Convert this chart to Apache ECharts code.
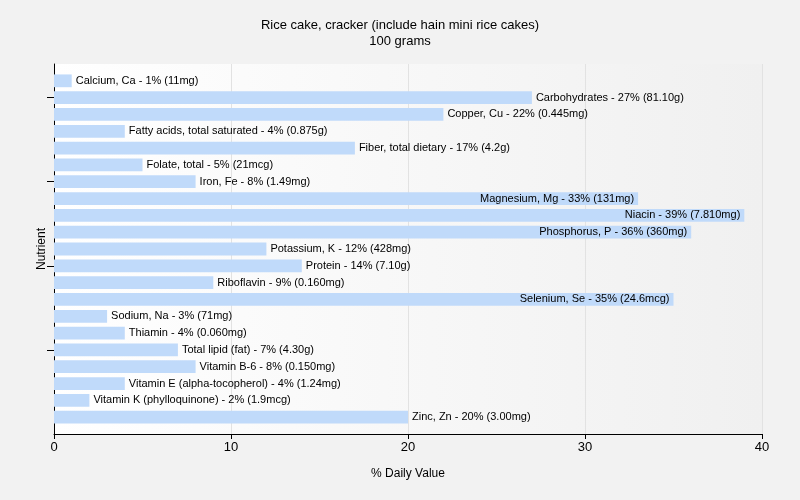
<!DOCTYPE html>
<html>
<head>
<meta charset="utf-8">
<script src="https://cdn.jsdelivr.net/npm/echarts@6/dist/echarts.min.js"></script>
<style>
  html, body { margin: 0; padding: 0; background: #f2f2f2; }
  #chart { width: 800px; height: 500px; }
</style>
</head>
<body>
<div id="chart"></div>
<script>
const nutrients = [
  "Calcium, Ca", "Carbohydrates", "Copper, Cu", "Fatty acids, total saturated",
  "Fiber, total dietary", "Folate, total", "Iron, Fe", "Magnesium, Mg", "Niacin",
  "Phosphorus, P", "Potassium, K", "Protein", "Riboflavin", "Selenium, Se",
  "Sodium, Na", "Thiamin", "Total lipid (fat)", "Vitamin B-6",
  "Vitamin E (alpha-tocopherol)", "Vitamin K (phylloquinone)", "Zinc, Zn"
];
const dailyValues = [1, 27, 22, 4, 17, 5, 8, 33, 39, 36, 12, 14, 9, 35, 3, 4, 7, 8, 4, 2, 20];
const amounts = [
  "11mg", "81.10g", "0.445mg", "0.875g", "4.2g", "21mcg", "1.49mg", "131mg", "7.810mg",
  "360mg", "428mg", "7.10g", "0.160mg", "24.6mcg", "71mg", "0.060mg", "4.30g", "0.150mg",
  "1.24mg", "1.9mcg", "3.00mg"
];
const xTicks = [0, 10, 20, 30, 40];
const yTickRows = [1, 6, 11, 16];

const FONT = "Liberation Sans";
const chart = echarts.init(document.getElementById('chart'));
const nRows = nutrients.length;

chart.setOption({
  backgroundColor: '#f2f2f2',
  animation: false,
  title: {
    text: 'Rice cake, cracker (include hain mini rice cakes)\n100 grams',
    left: 'center',
    top: 12,
    textStyle: { fontFamily: FONT, fontSize: 13, fontWeight: 'normal', color: '#000', lineHeight: 16 }
  },
  grid: [
    {
      left: 54, right: 38, top: 64, bottom: 66, show: true, borderWidth: 0,
      backgroundColor: new echarts.graphic.LinearGradient(0, 0, 1, 0, [
        { offset: 0, color: '#ffffff' }, { offset: 1, color: '#f0f0f0' }
      ])
    },
    { left: 54, right: 38, top: 64 + 370 / (nRows + 1) / 2, bottom: 66 + 370 / (nRows + 1) / 2 }
  ],
  xAxis: [
    {
      gridIndex: 0, type: 'value', min: xTicks[0], max: xTicks[xTicks.length - 1], interval: 10,
      name: '% Daily Value', nameLocation: 'middle', nameGap: 34,
      nameTextStyle: { fontFamily: FONT, fontSize: 12, color: '#000' },
      axisLine: { show: true, onZero: false, lineStyle: { color: '#000', width: 1 } },
      axisTick: { show: true, length: 5, lineStyle: { color: '#000' } },
      axisLabel: { fontFamily: FONT, fontSize: 13, color: '#000', margin: 7 },
      splitLine: { show: true, lineStyle: { color: '#e2e2e2', width: 1 } }
    },
    { gridIndex: 1, type: 'value', min: xTicks[0], max: xTicks[xTicks.length - 1], show: false }
  ],
  yAxis: [
    {
      gridIndex: 0, type: 'value', inverse: true, min: -1, max: nRows,
      name: 'Nutrient', nameLocation: 'middle', nameGap: 6, nameRotate: 90,
      nameTextStyle: { fontFamily: FONT, fontSize: 12, color: '#000' },
      axisLine: { show: true, onZero: false, lineStyle: { color: '#000', width: 1 } },
      axisTick: { show: true, length: 7, customValues: yTickRows, lineStyle: { color: '#000' } },
      axisLabel: { show: false },
      splitLine: { show: false }
    },
    { gridIndex: 1, type: 'category', inverse: true, data: nutrients, show: false }
  ],
  series: [{
    type: 'bar',
    xAxisIndex: 1, yAxisIndex: 1,
    barWidth: '76%',
    itemStyle: { color: '#c0dafa' },
    data: dailyValues.map((v, i) => ({
      value: v,
      label: { position: v >= 30 ? 'insideRight' : 'right' }
    })),
    label: {
      show: true,
      distance: 4,
      fontFamily: FONT, fontSize: 11, color: '#000',
      formatter: p => `${nutrients[p.dataIndex]} - ${dailyValues[p.dataIndex]}% (${amounts[p.dataIndex]})`
    }
  }]
});
</script>
</body>
</html>
